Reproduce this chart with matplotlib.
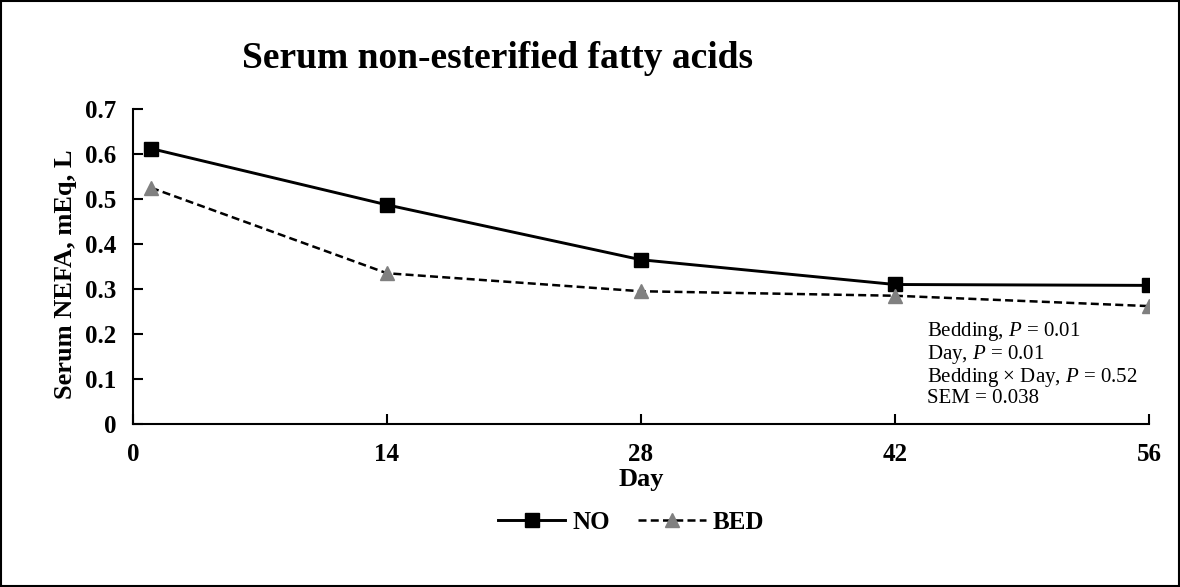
import matplotlib
matplotlib.use("Agg")
import matplotlib.pyplot as plt
from matplotlib.patches import Rectangle

days = [1, 14, 28, 42, 56]
no_vals = [0.612, 0.487, 0.365, 0.310, 0.308]
bed_vals = [0.525, 0.335, 0.295, 0.285, 0.262]
x_ticks = [0, 14, 28, 42, 56]
y_ticks = [0, 0.1, 0.2, 0.3, 0.4, 0.5, 0.6, 0.7]
y_tick_labels = ["0", "0.1", "0.2", "0.3", "0.4", "0.5", "0.6", "0.7"]
stats_lines = ["Bedding, $\\it{P}$ = 0.01", "Day, $\\it{P}$ = 0.01",
               "Bedding \u00d7 Day, $\\it{P}$ = 0.52", "SEM = 0.038"]

plt.rcParams['font.family'] = ['Liberation Serif', 'DejaVu Serif']
plt.rcParams['mathtext.fontset'] = 'custom'
plt.rcParams['mathtext.it'] = 'Liberation Serif:italic'
plt.rcParams['mathtext.rm'] = 'Liberation Serif'

fig = plt.figure(figsize=(11.8, 5.87), dpi=100)
ax = fig.add_axes([0.1127, 0.2777, 0.861, 0.5366])

ax.plot(days, no_vals, color='black', linestyle='-', linewidth=2.1, marker='s',
        markersize=10, label='NO')
ax.plot(days, bed_vals, color='black', linestyle=(0, (3.2, 1.7)), linewidth=1.8, marker='^',
        markersize=10, markerfacecolor='#808080', markeredgecolor='#808080', label='BED')

ax.set_xlim(0, 56)
ax.set_ylim(0, 0.7)
ax.set_xticks(x_ticks)
ax.set_xticklabels([str(t) for t in x_ticks], fontsize=18, fontweight='bold')
ax.set_yticks(y_ticks)
ax.set_yticklabels(y_tick_labels, fontsize=18, fontweight='bold')
ax.tick_params(direction='in', length=7, width=1.5, pad=12)
ax.tick_params(axis='x', pad=14)
for s in ['top', 'right']:
    ax.spines[s].set_visible(False)
for s in ['left', 'bottom']:
    ax.spines[s].set_linewidth(1.5)

ax.set_ylabel('Serum NEFA, mEq, L', fontsize=19, fontweight='bold')
ax.yaxis.set_label_coords(-0.055, 0.475)
ax.set_xlabel('Day', fontsize=19, fontweight='bold', labelpad=1)

fig.text(0.422, 0.90, 'Serum non-esterified fatty acids', fontsize=27,
         fontweight='bold', ha='center', va='center')

fig.text(0.786, 0.455, "\n".join(stats_lines), fontsize=15, ha='left', va='top',
         linespacing=1.0)

leg = fig.legend(loc='center', bbox_to_anchor=(0.535, 0.11), ncol=2, frameon=False,
                 prop={'size': 18, 'weight': 'bold'}, handlelength=2.7,
                 columnspacing=1.1, handletextpad=0.3)

fig.add_artist(Rectangle((0.001, 0.001), 0.998, 0.998, transform=fig.transFigure,
                         fill=False, edgecolor='black', linewidth=1.5))

fig.savefig('out.png', dpi=100)
